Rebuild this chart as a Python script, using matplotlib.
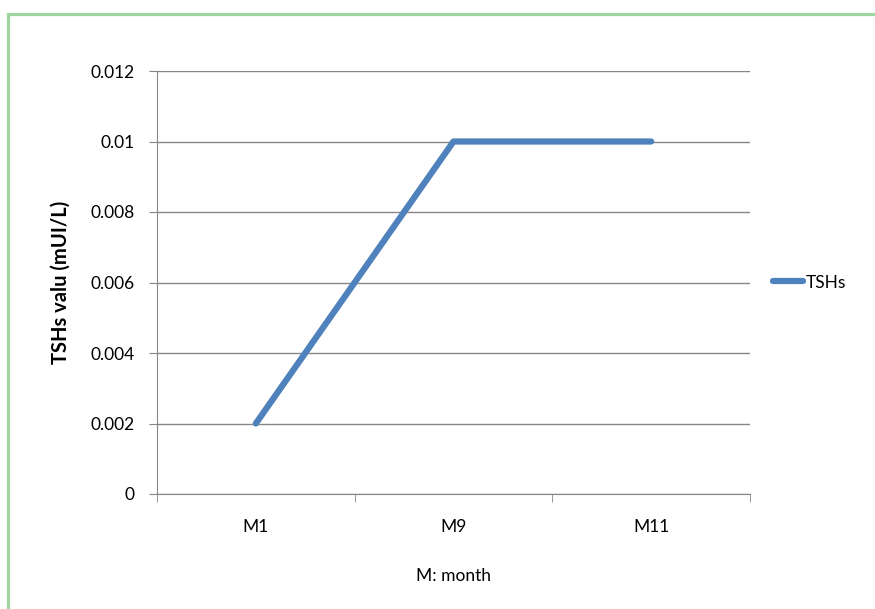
import matplotlib.pyplot as plt
from matplotlib.patches import Rectangle

months = ['M1', 'M9', 'M11']
tshs = [0.002, 0.01, 0.01]
yticks = [0, 0.002, 0.004, 0.006, 0.008, 0.01, 0.012]
ytick_labels = ['0', '0.002', '0.004', '0.006', '0.008', '0.01', '0.012']

plt.rcParams['font.family'] = ['Lato', 'DejaVu Sans']

fig = plt.figure(figsize=(8.75, 6.09), dpi=100)
ax = fig.add_axes([157/875, 1 - 494/609, 593/875, 423/609])

# green frame round the chart area
fig.patches.append(Rectangle((8/875, -0.05), 1.0, 1 - 14/609 + 0.05,
                             transform=fig.transFigure, fill=False,
                             edgecolor='#9fd6a0', linewidth=2.3))

x = list(range(len(months)))
ax.plot(x, tshs, color='#4f81bd', linewidth=4.5, solid_capstyle='round', label='TSHs')

ax.set_xlim(-0.5, len(months) - 0.5)
ax.set_ylim(0, 0.012)
ax.set_yticks(yticks)
ax.set_yticklabels(ytick_labels)
ax.set_xticks(x)
ax.set_xticklabels(months)
ax.set_xticks([-0.5, 0.5, 1.5, 2.5], minor=True)
ax.tick_params(axis='x', which='major', length=0, pad=18)
ax.tick_params(axis='x', which='minor', length=6, color='#868686', direction='out')
ax.tick_params(axis='y', length=6, color='#868686', direction='out', pad=10)
ax.tick_params(labelsize=12.5)

ax.grid(axis='y', color='#868686', linewidth=1)
ax.set_axisbelow(True)
for s in ['top', 'right']:
    ax.spines[s].set_visible(False)
ax.spines['left'].set_color('#868686')
ax.spines['bottom'].set_color('#868686')

ax.set_ylabel('TSHs valu (mUI/L)', fontsize=14.5, fontweight='bold', labelpad=14)
ax.set_xlabel('M: month', fontsize=12.5, labelpad=24)

ax.legend(loc='center left', bbox_to_anchor=(1.013, 0.5), frameon=False,
          handlelength=1.7, handletextpad=0.15, fontsize=12.5)

fig.savefig('out.png', dpi=100)
